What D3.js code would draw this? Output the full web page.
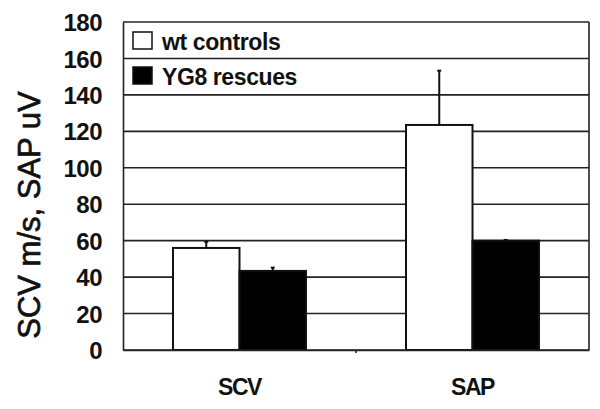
<!DOCTYPE html>
<html>
<head>
<meta charset="utf-8">
<script src="https://cdn.jsdelivr.net/npm/d3@7"></script>
<style>
  body { margin: 0; background: #fff; }
  svg { display: block; }
  text { font-family: Arial, "Liberation Sans", sans-serif; fill: #111; }
</style>
</head>
<body>
<div id="chart"></div>
<script>
// data
var categories = ["SCV", "SAP"];
var groups = ["wt controls", "YG8 rescues"];
var meanWt = [56, 123.5];
var errWt = [3.4, 29.8];
var meanYg8 = [43.4, 60];
var errYg8 = [1.8, 0.4];
var yTicks = [0, 20, 40, 60, 80, 100, 120, 140, 160, 180];

var groupColors = ["#fff", "#000"];

var width = 600, height = 409;
var margin = {top: 22, right: 11, bottom: 59, left: 123};
var innerW = width - margin.left - margin.right;
var innerH = height - margin.top - margin.bottom;

// rows for the bars
var rows = [];
categories.forEach(function(c, i) {
  rows.push({cat: c, group: groups[0], value: meanWt[i], err: errWt[i]});
  rows.push({cat: c, group: groups[1], value: meanYg8[i], err: errYg8[i]});
});

var svg = d3.select("#chart").append("svg")
    .attr("width", width)
    .attr("height", height);

var g = svg.append("g")
    .attr("transform", "translate(" + margin.left + "," + margin.top + ")");

var x = d3.scaleBand().domain(categories).range([0, innerW]).paddingInner(0).paddingOuter(0);
var x1 = d3.scaleBand().domain(groups).range([50, x.bandwidth() - 50]);
var y = d3.scaleLinear().domain([0, 180]).range([innerH, 0]);
var color = d3.scaleOrdinal(groups, groupColors);

// gridlines
g.selectAll(".grid")
    .data(yTicks)
    .enter().append("line")
    .attr("class", "grid")
    .attr("x1", 0).attr("x2", innerW)
    .attr("y1", function(d) { return y(d); })
    .attr("y2", function(d) { return y(d); })
    .attr("stroke", "#222")
    .attr("stroke-width", 1.6);

// right border
g.append("line")
    .attr("x1", innerW).attr("x2", innerW)
    .attr("y1", 0).attr("y2", innerH)
    .attr("stroke", "#222").attr("stroke-width", 1.6);

// bars
g.selectAll(".bar")
    .data(rows)
    .enter().append("rect")
    .attr("class", "bar")
    .attr("x", function(d) { return x(d.cat) + x1(d.group); })
    .attr("y", function(d) { return y(d.value); })
    .attr("width", x1.bandwidth())
    .attr("height", function(d) { return innerH - y(d.value); })
    .attr("fill", function(d) { return color(d.group); })
    .attr("stroke", "#111")
    .attr("stroke-width", 2);

// error bars (upper only)
g.selectAll(".err")
    .data(rows)
    .enter().append("line")
    .attr("class", "err")
    .attr("x1", function(d) { return x(d.cat) + x1(d.group) + x1.bandwidth() / 2; })
    .attr("x2", function(d) { return x(d.cat) + x1(d.group) + x1.bandwidth() / 2; })
    .attr("y1", function(d) { return y(d.value); })
    .attr("y2", function(d) { return y(d.value + d.err); })
    .attr("stroke", "#111")
    .attr("stroke-width", 2);

g.selectAll(".cap")
    .data(rows)
    .enter().append("line")
    .attr("class", "cap")
    .attr("x1", function(d) { return x(d.cat) + x1(d.group) + x1.bandwidth() / 2 - 2; })
    .attr("x2", function(d) { return x(d.cat) + x1(d.group) + x1.bandwidth() / 2 + 2; })
    .attr("y1", function(d) { return y(d.value + d.err); })
    .attr("y2", function(d) { return y(d.value + d.err); })
    .attr("stroke", "#111")
    .attr("stroke-width", 2);

// y axis
var yAxis = g.append("g")
    .call(d3.axisLeft(y).tickValues(yTicks).tickSize(0).tickPadding(21));
yAxis.select(".domain").attr("stroke", "#222").attr("stroke-width", 1.6);
yAxis.selectAll("text")
    .style("font-size", "24px")
    .style("font-weight", "bold")
    .style("letter-spacing", "-0.5px")
    .attr("fill", "#111")
    .attr("dy", "0.36em");

// x axis
var xAxis = g.append("g")
    .attr("transform", "translate(0," + innerH + ")")
    .call(d3.axisBottom(x).tickSize(0).tickPadding(29));
xAxis.select(".domain").attr("stroke", "#222").attr("stroke-width", 1.6);
xAxis.selectAll("text")
    .style("font-size", "23px")
    .style("font-weight", "bold")
    .style("letter-spacing", "-1.5px")
    .attr("fill", "#111");

// small tick between the categories
g.append("line")
    .attr("x1", x("SAP")).attr("x2", x("SAP"))
    .attr("y1", innerH).attr("y2", innerH + 3)
    .attr("stroke", "#222").attr("stroke-width", 1.6);

// y axis title
svg.append("text")
    .attr("transform", "translate(40," + (margin.top + innerH / 2 + 29) + ") rotate(-90)")
    .attr("text-anchor", "middle")
    .style("font-size", "31px")
    .attr("stroke", "#111")
    .attr("stroke-width", 0.7)
    .text("SCV m/s, SAP uV");

// legend
var legend = g.selectAll(".legend")
    .data(groups)
    .enter().append("g")
    .attr("class", "legend")
    .attr("transform", function(d, i) { return "translate(10," + (10 + i * 35) + ")"; });

legend.append("rect")
    .attr("width", 19)
    .attr("height", 17)
    .attr("fill", function(d) { return color(d); })
    .attr("stroke", "#111")
    .attr("stroke-width", 1.5);

legend.append("text")
    .attr("x", 29)
    .attr("y", 18)
    .style("font-size", "23px")
    .style("font-weight", "bold")
    .style("letter-spacing", "-0.4px")
    .text(function(d) { return d; });
</script>
</body>
</html>
